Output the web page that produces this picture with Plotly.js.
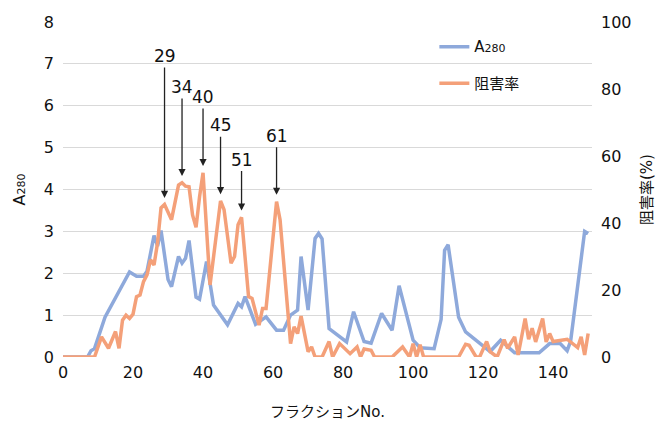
<!DOCTYPE html>
<html>
<head>
<meta charset="utf-8">
<script src="https://cdn.plot.ly/plotly-3.0.1.min.js"></script>
<style>html,body{margin:0;padding:0;background:#fff;}#chart{width:656px;height:421px;}</style>
</head>
<body>
<div id="chart"></div>
<script>
// A280 absorbance (left axis)
const fracA = [0,7,8,9,12,19,21,23,24,26,27,28,30,31,33,34,35,36,38,39,41,43,47,50,51,52,55,58,61,63,65,67,68,70,72,73,74,76,81,83,86,88,91,94,96,100,102,106,108,109,110,113,115,122,125,129,136,139,142,144,145,149,150];
const a280  = [0,0,0.15,0.2,0.95,2.03,1.93,1.93,2.05,2.9,2.65,3.02,1.85,1.68,2.4,2.24,2.36,2.78,1.43,1.38,2.28,1.24,0.77,1.28,1.2,1.44,0.78,0.96,0.64,0.64,1.0,1.12,2.4,1.12,2.83,2.95,2.82,0.68,0.36,1.08,0.37,0.33,1.04,0.64,1.7,0.4,0.22,0.2,0.9,2.55,2.68,0.95,0.6,0.13,0.4,0.1,0.1,0.32,0.32,0.15,0.38,3.0,2.95];

// Inhibition rate % (right axis)
const fracP = [0,9,11,13,15,16,17,18,19,20,21,22,23,24,25,26,27,28,29,31,33,34,35,36,37,38,39,40,42,45,46,48,49,50,51,53,54,56,57,58,61,62,65,66,67,68,70,71,72,74,76,77,79,81,82,84,85,86,88,89,94,97,99,100,101,102,103,113,115,116,118,119,121,122,124,126,127,129,130,132,133,134,135,137,138,139,140,144,147,148,149,150];
const inhib = [0,0,6,2.6,7.6,2.6,11,12.5,11.5,12.8,18,18.5,22.5,24.5,29,27.5,34,44.5,45.5,41,51.3,52,51,50.8,42.4,38.7,47.8,55,21.5,46.6,44,28,30,39.5,41.7,18,17.5,9.5,14.5,14.5,46.4,41,4,9,7,12.2,1.6,3,0,0,4.6,0,4,2,1,3,0,2.4,2,0,0,3,0,4,0,3.7,0,0,3.8,3.5,0,0,4.6,1.6,0,5.2,2.6,6,0.6,11.5,5.3,8.6,4.5,11.5,4.5,7,4.6,5.3,2.8,6,0.6,7];

// Labelled peaks
const peakLabels = [29,34,40,45,51,61];
const arrowLen = [142,89,69,69,51,59];

const xTicks = [0,20,40,60,80,100,120,140];

const FONT = 'DejaVu Sans, "Noto Sans CJK JP", sans-serif';
const BLUE = '#8EA9DB';
const ORANGE = '#F4A079';

function valAt(f){
  const i = fracP.indexOf(f);
  return inhib[i];
}

const traces = [
  {x: fracA, y: a280, type:'scatter', mode:'lines', name:'A<span style="font-size:11px">280</span>',
   line:{color:BLUE, width:3.5}, legendgroup:'a', yaxis:'y'},
  {x: fracP, y: inhib, type:'scatter', mode:'lines', name:'阻害率',
   line:{color:ORANGE, width:3.5}, legendgroup:'b', yaxis:'y2'}
];

const annotations = peakLabels.map((p,i)=>({
  x: p, y: valAt(p) + 2, xref:'x', yref:'y2',
  text: String(p), showarrow:true, arrowhead:2, arrowsize:1.1, arrowwidth:1.3,
  arrowcolor:'#222', ax:0, ay:-arrowLen[i], standoff:0,
  font:{family:FONT, size:17, color:'#111'}
}));

const layout = {
  width:656, height:421,
  margin:{l:63, r:64, t:22, b:64, pad:0},
  paper_bgcolor:'#fff', plot_bgcolor:'#fff',
  font:{family:FONT, size:16, color:'#111'},
  showlegend:true,
  legend:{x:0.702, y:0.975, xanchor:'left', yanchor:'top', bgcolor:'rgba(0,0,0,0)',
          font:{family:FONT, size:15, color:'#111'}, traceorder:'grouped', tracegroupgap:14},
  xaxis:{range:[0,151.1], tickvals:xTicks, ticktext:xTicks.map(String), showgrid:false, zeroline:false,
         showline:false, ticks:'', ticklabelstandoff:4, tickfont:{size:16},
         title:{text:'フラクションNo.', font:{size:15}, standoff:25}},
  yaxis:{range:[0,8], dtick:1, tick0:0, showgrid:true, gridcolor:'#d9d9d9', gridwidth:1,
         zeroline:false, showline:false, ticks:'', ticklabelstandoff:8, tickfont:{size:16},
         title:{text:'A<span style="font-size:11px">280</span>', font:{size:16}, standoff:14}},
  yaxis2:{range:[0,100], dtick:20, tick0:0, overlaying:'y', side:'right', showgrid:false,
          zeroline:false, showline:false, ticks:'', ticklabelstandoff:8, tickfont:{size:16},
          title:{text:'阻害率(%)', font:{size:15}, standoff:10}},
  annotations: annotations
};

Plotly.newPlot('chart', traces, layout, {displayModeBar:false, staticPlot:true});
</script>
</body>
</html>
